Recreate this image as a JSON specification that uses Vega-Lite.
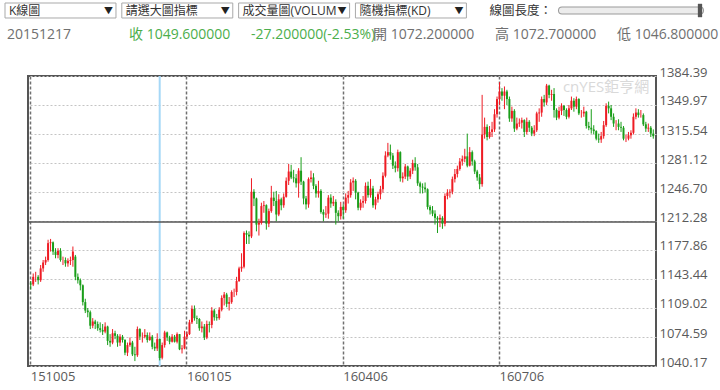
{
  "$schema": "https://vega.github.io/schema/vega-lite/v6.json",
  "width": 628,
  "height": 290,
  "autosize": {"type": "none"},
  "padding": {"left": 28, "top": 76, "right": 64, "bottom": 24},
  "background": "white",
  "config": {
    "view": {"stroke": "#555555", "strokeWidth": 2},
    "text": {"font": "Open Sans, Noto Sans CJK TC"},
    "axis": {"labelFont": "Open Sans", "labelFontSize": 13, "labelColor": "#5a5a5a"}
  },
  "resolve": {"scale": {"x": "independent", "y": "independent"}},
  "layer": [
    {
      "data": {"values": [
        {"d":"20151005","o":1138,"h":1141,"l":1131,"c":1137},
        {"d":"20151006","o":1137,"h":1150,"l":1135,"c":1146},
        {"d":"20151007","o":1146,"h":1152,"l":1140,"c":1146},
        {"d":"20151008","o":1146,"h":1148,"l":1137,"c":1142},
        {"d":"20151009","o":1142,"h":1160,"l":1140,"c":1156},
        {"d":"20151012","o":1156,"h":1166,"l":1152,"c":1163},
        {"d":"20151013","o":1163,"h":1170,"l":1160,"c":1166},
        {"d":"20151014","o":1166,"h":1190,"l":1164,"c":1186},
        {"d":"20151015","o":1186,"h":1191,"l":1176,"c":1187},
        {"d":"20151016","o":1187,"h":1188,"l":1172,"c":1176},
        {"d":"20151019","o":1176,"h":1180,"l":1168,"c":1172},
        {"d":"20151020","o":1172,"h":1180,"l":1168,"c":1177},
        {"d":"20151021","o":1177,"h":1180,"l":1164,"c":1166},
        {"d":"20151022","o":1166,"h":1170,"l":1160,"c":1166},
        {"d":"20151023","o":1166,"h":1169,"l":1158,"c":1162},
        {"d":"20151026","o":1162,"h":1168,"l":1158,"c":1165},
        {"d":"20151027","o":1165,"h":1170,"l":1160,"c":1166},
        {"d":"20151028","o":1166,"h":1182,"l":1158,"c":1176},
        {"d":"20151029","o":1170,"h":1172,"l":1142,"c":1146},
        {"d":"20151030","o":1146,"h":1150,"l":1138,"c":1142},
        {"d":"20151102","o":1142,"h":1144,"l":1130,"c":1136},
        {"d":"20151103","o":1136,"h":1137,"l":1112,"c":1116},
        {"d":"20151104","o":1116,"h":1120,"l":1103,"c":1106},
        {"d":"20151105","o":1106,"h":1109,"l":1098,"c":1104},
        {"d":"20151106","o":1104,"h":1106,"l":1084,"c":1088},
        {"d":"20151109","o":1088,"h":1097,"l":1085,"c":1093},
        {"d":"20151110","o":1093,"h":1095,"l":1084,"c":1090},
        {"d":"20151111","o":1090,"h":1093,"l":1082,"c":1085},
        {"d":"20151112","o":1085,"h":1092,"l":1080,"c":1083},
        {"d":"20151113","o":1083,"h":1090,"l":1077,"c":1081},
        {"d":"20151116","o":1081,"h":1092,"l":1079,"c":1087},
        {"d":"20151117","o":1087,"h":1088,"l":1065,"c":1070},
        {"d":"20151118","o":1070,"h":1078,"l":1063,"c":1068},
        {"d":"20151119","o":1068,"h":1084,"l":1066,"c":1079},
        {"d":"20151120","o":1079,"h":1082,"l":1072,"c":1076},
        {"d":"20151123","o":1076,"h":1078,"l":1063,"c":1068},
        {"d":"20151124","o":1068,"h":1078,"l":1064,"c":1075},
        {"d":"20151125","o":1075,"h":1077,"l":1068,"c":1071},
        {"d":"20151127","o":1071,"h":1072,"l":1053,"c":1056},
        {"d":"20151130","o":1056,"h":1068,"l":1052,"c":1065},
        {"d":"20151201","o":1065,"h":1074,"l":1063,"c":1068},
        {"d":"20151202","o":1068,"h":1070,"l":1052,"c":1054},
        {"d":"20151203","o":1054,"h":1063,"l":1046,"c":1053},
        {"d":"20151204","o":1053,"h":1087,"l":1051,"c":1084},
        {"d":"20151207","o":1084,"h":1085,"l":1071,"c":1075},
        {"d":"20151208","o":1075,"h":1080,"l":1068,"c":1075},
        {"d":"20151209","o":1075,"h":1084,"l":1073,"c":1077},
        {"d":"20151210","o":1077,"h":1080,"l":1068,"c":1071},
        {"d":"20151211","o":1071,"h":1080,"l":1070,"c":1075},
        {"d":"20151214","o":1075,"h":1077,"l":1060,"c":1063},
        {"d":"20151215","o":1063,"h":1068,"l":1058,"c":1061},
        {"d":"20151216","o":1061,"h":1079,"l":1058,"c":1072},
        {"d":"20151217","o":1072.2,"h":1072.7,"l":1046.8,"c":1049.6},
        {"d":"20151218","o":1050,"h":1068,"l":1048,"c":1065},
        {"d":"20151221","o":1065,"h":1082,"l":1062,"c":1080},
        {"d":"20151222","o":1080,"h":1081,"l":1070,"c":1074},
        {"d":"20151223","o":1074,"h":1076,"l":1066,"c":1069},
        {"d":"20151224","o":1069,"h":1078,"l":1068,"c":1075},
        {"d":"20151228","o":1075,"h":1077,"l":1068,"c":1069},
        {"d":"20151229","o":1069,"h":1080,"l":1067,"c":1078},
        {"d":"20151230","o":1078,"h":1078,"l":1059,"c":1060},
        {"d":"20151231","o":1060,"h":1065,"l":1055,"c":1061},
        {"d":"20160104","o":1061,"h":1082,"l":1060,"c":1075},
        {"d":"20160105","o":1075,"h":1081,"l":1072,"c":1078},
        {"d":"20160106","o":1078,"h":1095,"l":1077,"c":1092},
        {"d":"20160107","o":1092,"h":1112,"l":1090,"c":1108},
        {"d":"20160108","o":1108,"h":1112,"l":1094,"c":1097},
        {"d":"20160111","o":1097,"h":1100,"l":1090,"c":1096},
        {"d":"20160112","o":1096,"h":1097,"l":1082,"c":1085},
        {"d":"20160113","o":1085,"h":1093,"l":1080,"c":1087},
        {"d":"20160114","o":1087,"h":1090,"l":1071,"c":1074},
        {"d":"20160115","o":1074,"h":1094,"l":1072,"c":1090},
        {"d":"20160119","o":1090,"h":1093,"l":1080,"c":1089},
        {"d":"20160120","o":1089,"h":1110,"l":1085,"c":1106},
        {"d":"20160121","o":1106,"h":1108,"l":1094,"c":1098},
        {"d":"20160122","o":1098,"h":1102,"l":1094,"c":1097},
        {"d":"20160125","o":1097,"h":1110,"l":1095,"c":1107},
        {"d":"20160126","o":1107,"h":1124,"l":1105,"c":1121},
        {"d":"20160127","o":1121,"h":1128,"l":1112,"c":1125},
        {"d":"20160128","o":1125,"h":1127,"l":1110,"c":1114},
        {"d":"20160129","o":1114,"h":1122,"l":1106,"c":1116},
        {"d":"20160201","o":1116,"h":1130,"l":1114,"c":1128},
        {"d":"20160202","o":1128,"h":1132,"l":1122,"c":1128},
        {"d":"20160203","o":1128,"h":1146,"l":1124,"c":1141},
        {"d":"20160204","o":1141,"h":1158,"l":1140,"c":1156},
        {"d":"20160205","o":1156,"h":1174,"l":1152,"c":1158},
        {"d":"20160208","o":1158,"h":1200,"l":1156,"c":1198},
        {"d":"20160209","o":1198,"h":1201,"l":1185,"c":1196},
        {"d":"20160210","o":1196,"h":1200,"l":1185,"c":1194},
        {"d":"20160211","o":1194,"h":1263,"l":1192,"c":1247},
        {"d":"20160212","o":1247,"h":1250,"l":1230,"c":1239},
        {"d":"20160216","o":1239,"h":1240,"l":1200,"c":1208},
        {"d":"20160217","o":1208,"h":1215,"l":1195,"c":1210},
        {"d":"20160218","o":1210,"h":1234,"l":1208,"c":1230},
        {"d":"20160219","o":1230,"h":1236,"l":1222,"c":1231},
        {"d":"20160222","o":1231,"h":1232,"l":1202,"c":1209},
        {"d":"20160223","o":1209,"h":1227,"l":1205,"c":1224},
        {"d":"20160224","o":1224,"h":1254,"l":1222,"c":1240},
        {"d":"20160225","o":1240,"h":1247,"l":1230,"c":1236},
        {"d":"20160226","o":1236,"h":1248,"l":1212,"c":1220},
        {"d":"20160229","o":1220,"h":1244,"l":1218,"c":1238},
        {"d":"20160301","o":1238,"h":1240,"l":1225,"c":1231},
        {"d":"20160302","o":1231,"h":1245,"l":1228,"c":1241},
        {"d":"20160303","o":1241,"h":1264,"l":1240,"c":1260},
        {"d":"20160304","o":1260,"h":1280,"l":1255,"c":1271},
        {"d":"20160307","o":1271,"h":1279,"l":1262,"c":1264},
        {"d":"20160308","o":1264,"h":1273,"l":1258,"c":1263},
        {"d":"20160309","o":1263,"h":1268,"l":1252,"c":1257},
        {"d":"20160310","o":1257,"h":1275,"l":1240,"c":1272},
        {"d":"20160311","o":1272,"h":1288,"l":1255,"c":1259},
        {"d":"20160314","o":1259,"h":1260,"l":1232,"c":1239},
        {"d":"20160315","o":1239,"h":1242,"l":1226,"c":1232},
        {"d":"20160316","o":1232,"h":1264,"l":1228,"c":1262},
        {"d":"20160317","o":1262,"h":1272,"l":1258,"c":1264},
        {"d":"20160318","o":1264,"h":1269,"l":1250,"c":1254},
        {"d":"20160321","o":1254,"h":1256,"l":1240,"c":1245},
        {"d":"20160322","o":1245,"h":1260,"l":1240,"c":1248},
        {"d":"20160323","o":1248,"h":1250,"l":1221,"c":1223},
        {"d":"20160324","o":1223,"h":1226,"l":1212,"c":1220},
        {"d":"20160328","o":1220,"h":1230,"l":1216,"c":1221},
        {"d":"20160329","o":1221,"h":1243,"l":1215,"c":1240},
        {"d":"20160330","o":1240,"h":1244,"l":1228,"c":1233},
        {"d":"20160331","o":1233,"h":1242,"l":1230,"c":1235},
        {"d":"20160401","o":1235,"h":1238,"l":1208,"c":1222},
        {"d":"20160404","o":1222,"h":1225,"l":1212,"c":1218},
        {"d":"20160405","o":1218,"h":1235,"l":1214,"c":1229},
        {"d":"20160406","o":1229,"h":1232,"l":1215,"c":1225},
        {"d":"20160407","o":1225,"h":1245,"l":1222,"c":1240},
        {"d":"20160408","o":1240,"h":1248,"l":1233,"c":1243},
        {"d":"20160411","o":1243,"h":1262,"l":1240,"c":1258},
        {"d":"20160412","o":1258,"h":1264,"l":1248,"c":1260},
        {"d":"20160413","o":1260,"h":1262,"l":1238,"c":1246},
        {"d":"20160414","o":1246,"h":1247,"l":1225,"c":1228},
        {"d":"20160415","o":1228,"h":1238,"l":1225,"c":1234},
        {"d":"20160418","o":1234,"h":1242,"l":1228,"c":1236},
        {"d":"20160419","o":1236,"h":1258,"l":1233,"c":1254},
        {"d":"20160420","o":1254,"h":1259,"l":1240,"c":1243},
        {"d":"20160421","o":1243,"h":1262,"l":1240,"c":1251},
        {"d":"20160422","o":1251,"h":1254,"l":1228,"c":1231},
        {"d":"20160425","o":1231,"h":1241,"l":1226,"c":1238},
        {"d":"20160426","o":1238,"h":1247,"l":1234,"c":1244},
        {"d":"20160427","o":1244,"h":1254,"l":1238,"c":1250},
        {"d":"20160428","o":1250,"h":1270,"l":1246,"c":1266},
        {"d":"20160429","o":1266,"h":1295,"l":1264,"c":1290},
        {"d":"20160502","o":1290,"h":1305,"l":1288,"c":1294},
        {"d":"20160503","o":1294,"h":1303,"l":1285,"c":1290},
        {"d":"20160504","o":1290,"h":1293,"l":1274,"c":1278},
        {"d":"20160505","o":1278,"h":1283,"l":1270,"c":1275},
        {"d":"20160506","o":1275,"h":1297,"l":1271,"c":1294},
        {"d":"20160509","o":1294,"h":1295,"l":1259,"c":1263},
        {"d":"20160510","o":1263,"h":1270,"l":1258,"c":1265},
        {"d":"20160511","o":1265,"h":1280,"l":1262,"c":1277},
        {"d":"20160512","o":1277,"h":1278,"l":1260,"c":1265},
        {"d":"20160513","o":1265,"h":1275,"l":1262,"c":1272},
        {"d":"20160516","o":1272,"h":1285,"l":1268,"c":1281},
        {"d":"20160517","o":1281,"h":1288,"l":1272,"c":1276},
        {"d":"20160518","o":1276,"h":1280,"l":1254,"c":1257},
        {"d":"20160519","o":1257,"h":1259,"l":1245,"c":1253},
        {"d":"20160520","o":1253,"h":1257,"l":1245,"c":1252},
        {"d":"20160523","o":1252,"h":1258,"l":1246,"c":1250},
        {"d":"20160524","o":1250,"h":1251,"l":1226,"c":1229},
        {"d":"20160525","o":1229,"h":1231,"l":1220,"c":1225},
        {"d":"20160526","o":1225,"h":1230,"l":1218,"c":1221},
        {"d":"20160527","o":1221,"h":1225,"l":1208,"c":1216},
        {"d":"20160531","o":1216,"h":1218,"l":1198,"c":1214},
        {"d":"20160601","o":1214,"h":1220,"l":1205,"c":1216},
        {"d":"20160602","o":1216,"h":1218,"l":1203,"c":1209},
        {"d":"20160603","o":1209,"h":1245,"l":1206,"c":1242},
        {"d":"20160606","o":1242,"h":1250,"l":1238,"c":1246},
        {"d":"20160607","o":1246,"h":1250,"l":1240,"c":1247},
        {"d":"20160608","o":1247,"h":1265,"l":1244,"c":1262},
        {"d":"20160609","o":1262,"h":1274,"l":1258,"c":1268},
        {"d":"20160610","o":1268,"h":1278,"l":1264,"c":1274},
        {"d":"20160613","o":1274,"h":1287,"l":1272,"c":1283},
        {"d":"20160614","o":1283,"h":1290,"l":1278,"c":1286},
        {"d":"20160615","o":1286,"h":1298,"l":1282,"c":1289},
        {"d":"20160616","o":1289,"h":1316,"l":1276,"c":1278},
        {"d":"20160617","o":1278,"h":1300,"l":1277,"c":1294},
        {"d":"20160620","o":1294,"h":1296,"l":1278,"c":1283},
        {"d":"20160621","o":1283,"h":1285,"l":1268,"c":1271},
        {"d":"20160622","o":1271,"h":1273,"l":1260,"c":1264},
        {"d":"20160623","o":1264,"h":1268,"l":1250,"c":1256},
        {"d":"20160624","o":1256,"h":1362,"l":1253,"c":1315},
        {"d":"20160627","o":1315,"h":1335,"l":1310,"c":1324},
        {"d":"20160628","o":1324,"h":1327,"l":1308,"c":1312},
        {"d":"20160629","o":1312,"h":1325,"l":1310,"c":1318},
        {"d":"20160630","o":1318,"h":1330,"l":1312,"c":1321},
        {"d":"20160701","o":1321,"h":1345,"l":1318,"c":1339},
        {"d":"20160705","o":1339,"h":1360,"l":1335,"c":1357},
        {"d":"20160706","o":1357,"h":1377,"l":1350,"c":1366},
        {"d":"20160707","o":1366,"h":1370,"l":1355,"c":1361},
        {"d":"20160708","o":1361,"h":1372,"l":1345,"c":1366},
        {"d":"20160711","o":1366,"h":1368,"l":1350,"c":1357},
        {"d":"20160712","o":1357,"h":1360,"l":1330,"c":1334},
        {"d":"20160713","o":1334,"h":1348,"l":1330,"c":1343},
        {"d":"20160714","o":1343,"h":1345,"l":1318,"c":1322},
        {"d":"20160715","o":1322,"h":1335,"l":1320,"c":1328},
        {"d":"20160718","o":1328,"h":1334,"l":1324,"c":1329},
        {"d":"20160719","o":1329,"h":1335,"l":1322,"c":1332},
        {"d":"20160720","o":1332,"h":1333,"l":1312,"c":1318},
        {"d":"20160721","o":1318,"h":1335,"l":1315,"c":1330},
        {"d":"20160722","o":1330,"h":1332,"l":1318,"c":1323},
        {"d":"20160725","o":1323,"h":1325,"l":1313,"c":1316},
        {"d":"20160726","o":1316,"h":1326,"l":1313,"c":1320},
        {"d":"20160727","o":1320,"h":1342,"l":1318,"c":1340},
        {"d":"20160728","o":1340,"h":1346,"l":1330,"c":1341},
        {"d":"20160729","o":1341,"h":1360,"l":1336,"c":1357},
        {"d":"20160801","o":1357,"h":1362,"l":1348,"c":1353},
        {"d":"20160802","o":1353,"h":1375,"l":1350,"c":1373},
        {"d":"20160803","o":1373,"h":1374,"l":1358,"c":1362},
        {"d":"20160804","o":1362,"h":1368,"l":1355,"c":1363},
        {"d":"20160805","o":1363,"h":1370,"l":1335,"c":1344},
        {"d":"20160808","o":1344,"h":1346,"l":1332,"c":1335},
        {"d":"20160809","o":1335,"h":1348,"l":1333,"c":1343},
        {"d":"20160810","o":1343,"h":1352,"l":1338,"c":1349},
        {"d":"20160811","o":1349,"h":1350,"l":1337,"c":1344},
        {"d":"20160812","o":1344,"h":1346,"l":1333,"c":1336},
        {"d":"20160815","o":1336,"h":1350,"l":1334,"c":1346},
        {"d":"20160816","o":1346,"h":1360,"l":1344,"c":1355},
        {"d":"20160817","o":1355,"h":1358,"l":1342,"c":1348},
        {"d":"20160818","o":1348,"h":1360,"l":1345,"c":1357},
        {"d":"20160819","o":1357,"h":1358,"l":1338,"c":1340},
        {"d":"20160822","o":1340,"h":1344,"l":1335,"c":1340},
        {"d":"20160823","o":1340,"h":1348,"l":1336,"c":1342},
        {"d":"20160824","o":1342,"h":1343,"l":1322,"c":1325},
        {"d":"20160825","o":1325,"h":1330,"l":1320,"c":1323},
        {"d":"20160826","o":1323,"h":1345,"l":1316,"c":1321},
        {"d":"20160829","o":1321,"h":1326,"l":1315,"c":1319},
        {"d":"20160830","o":1319,"h":1320,"l":1308,"c":1310},
        {"d":"20160831","o":1310,"h":1316,"l":1305,"c":1309},
        {"d":"20160901","o":1309,"h":1318,"l":1305,"c":1313},
        {"d":"20160902","o":1313,"h":1331,"l":1310,"c":1326},
        {"d":"20160906","o":1326,"h":1352,"l":1324,"c":1349},
        {"d":"20160907","o":1349,"h":1354,"l":1340,"c":1346},
        {"d":"20160908","o":1346,"h":1350,"l":1332,"c":1336},
        {"d":"20160909","o":1336,"h":1340,"l":1324,"c":1328},
        {"d":"20160912","o":1328,"h":1332,"l":1320,"c":1328},
        {"d":"20160913","o":1328,"h":1333,"l":1320,"c":1324},
        {"d":"20160914","o":1324,"h":1330,"l":1318,"c":1323},
        {"d":"20160915","o":1323,"h":1325,"l":1308,"c":1310},
        {"d":"20160916","o":1310,"h":1315,"l":1306,"c":1310},
        {"d":"20160919","o":1310,"h":1318,"l":1308,"c":1314},
        {"d":"20160920","o":1314,"h":1320,"l":1310,"c":1317},
        {"d":"20160921","o":1317,"h":1340,"l":1315,"c":1336},
        {"d":"20160922","o":1336,"h":1346,"l":1333,"c":1341},
        {"d":"20160923","o":1341,"h":1345,"l":1335,"c":1338},
        {"d":"20160926","o":1338,"h":1344,"l":1335,"c":1338},
        {"d":"20160927","o":1338,"h":1340,"l":1325,"c":1327},
        {"d":"20160928","o":1327,"h":1330,"l":1318,"c":1322},
        {"d":"20160929","o":1322,"h":1328,"l":1318,"c":1323},
        {"d":"20160930","o":1323,"h":1325,"l":1312,"c":1316},
        {"d":"20161003","o":1316,"h":1321,"l":1310,"c":1313}
      ]},
      "layer": [
        {
          "transform": [{"filter": "datum.d == '20151217'"}],
          "mark": {"type": "rule", "color": "#a6d8f7", "strokeWidth": 2},
          "encoding": {
            "x": {"field": "d", "type": "ordinal", "sort": "ascending",
              "scale": {"type": "band", "paddingInner": 0, "paddingOuter": 0.6},
              "axis": {"orient": "bottom", "values": ["20151005", "20160105", "20160406", "20160706"],
                "labelExpr": "substring(datum.value, 2)", "grid": true, "gridColor": "#707070",
                "gridDash": [3, 2], "gridWidth": 1.5, "ticks": false, "domain": false,
                "labelAlign": "left", "labelAngle": 0, "labelPadding": 4, "bandPosition": 0.5, "title": null}}
          }
        },
        {
          "data": {"values": [{"v": 1211}]},
          "mark": {"type": "rule", "color": "#555555", "strokeWidth": 1.5},
          "encoding": {"y": {"field": "v", "type": "quantitative",
            "scale": {"domain": [1040.17, 1384.39], "nice": false, "zero": false},
            "axis": {"orient": "right", "values": [1040.17, 1074.59, 1109.02, 1143.44, 1177.86, 1212.28, 1246.70, 1281.12, 1315.54, 1349.97, 1384.39],
              "tickCount": 30, "format": ".2f", "grid": true, "gridColor": "#c4c4c4", "gridDash": [2, 2],
              "ticks": false, "domain": false, "labelPadding": 3, "labelOffset": -4,
              "labelFlush": false, "labelOverlap": false, "title": null}}}
        },
        {
          "mark": {"type": "rule", "strokeWidth": 1},
          "encoding": {
            "x": {"field": "d", "type": "ordinal", "sort": "ascending"},
            "y": {"field": "l", "type": "quantitative",
              "axis": {"orient": "right", "values": [1040.17, 1074.59, 1109.02, 1143.44, 1177.86, 1212.28, 1246.70, 1281.12, 1315.54, 1349.97, 1384.39],
                "tickCount": 30, "format": ".2f", "grid": true, "gridColor": "#c4c4c4", "gridDash": [2, 2],
                "ticks": false, "domain": false, "labelPadding": 3, "labelOffset": -4,
                "labelFlush": false, "labelOverlap": false, "title": null}},
            "y2": {"field": "h"},
            "color": {"condition": {"test": "datum.c >= datum.o", "value": "#ee1c24"}, "value": "#1a9e1a"}
          }
        },
        {
          "mark": {"type": "bar", "width": {"band": 0.8}},
          "encoding": {
            "x": {"field": "d", "type": "ordinal", "sort": "ascending"},
            "y": {"field": "o", "type": "quantitative"},
            "y2": {"field": "c"},
            "color": {"condition": {"test": "datum.c >= datum.o", "value": "#ee1c24"}, "value": "#1a9e1a"}
          }
        },
        {
          "data": {"values": [{"t": "cnYES鉅亨網"}]},
          "mark": {"type": "text", "align": "right", "baseline": "middle", "dx": -4, "fontSize": 15, "color": "#d9d9d9"},
          "encoding": {
            "x": {"datum": "20161003", "type": "ordinal"},
            "y": {"datum": 1371, "type": "quantitative"},
            "text": {"field": "t"}
          }
        }
      ]
    },
    {
      "resolve": {"scale": {"x": "independent"}},
      "layer": [
        {
          "data": {"values": [
            {"ctl": "K線圖", "row": "controls"},
            {"ctl": "請選大圖指標", "row": "controls"},
            {"ctl": "成交量圖(VOLUM", "row": "controls"},
            {"ctl": "隨機指標(KD)", "row": "controls"}
          ]},
          "encoding": {
            "x": {"field": "ctl", "type": "nominal", "sort": null,
              "scale": {"type": "band", "domain": ["K線圖", "請選大圖指標", "成交量圖(VOLUM", "隨機指標(KD)"],
                "range": [-23, 438.4], "paddingInner": 0.05, "paddingOuter": 0}, "axis": null},
            "y": {"field": "row", "type": "nominal",
              "scale": {"type": "band", "domain": ["controls", "values"], "range": [-73, -33.5], "paddingInner": 0.388, "paddingOuter": 0},
              "axis": null}
          },
          "layer": [
            {
              "mark": {"type": "rect", "fill": "white", "stroke": "#a9a9a9", "strokeWidth": 1}
            },
            {
              "mark": {"type": "text", "align": "left", "baseline": "middle", "fontSize": 12, "color": "#333333", "dx": 4, "dy": 1},
              "encoding": {
                "x": {"field": "ctl", "type": "nominal", "sort": null, "bandPosition": 0},
                "text": {"field": "ctl"}
              }
            },
            {
              "mark": {"type": "text", "align": "right", "baseline": "middle", "fontSize": 9, "color": "#222222", "dx": -3, "dy": 1},
              "encoding": {
                "x": {"field": "ctl", "type": "nominal", "sort": null, "bandPosition": 1},
                "text": {"value": "▼"}
              }
            }
          ]
        },
        {
          "data": {"values": [{"ctl": "線圖長度：", "row": "controls"}]},
          "encoding": {
            "x": {"field": "ctl", "type": "nominal",
              "scale": {"type": "band", "domain": ["線圖長度："], "range": [534, 672], "paddingInner": 0, "paddingOuter": 0}, "axis": null},
            "y": {"field": "row", "type": "nominal",
              "scale": {"type": "band", "domain": ["controls", "values"], "range": [-73, -33.5], "paddingInner": 0.388, "paddingOuter": 0},
              "axis": null}
          },
          "layer": [
            {
              "mark": {"type": "text", "align": "right", "baseline": "middle", "fontSize": 12.5, "color": "#333333", "dx": -10, "dy": 1},
              "encoding": {
                "x": {"field": "ctl", "type": "nominal", "bandPosition": 0},
                "text": {"field": "ctl"}
              }
            },
            {
              "mark": {"type": "rule", "color": "#9a9a9a", "strokeWidth": 8, "strokeCap": "round", "dy": -2},
              "encoding": {
                "x": {"field": "ctl", "type": "nominal", "bandPosition": 0},
                "x2": {"field": "ctl", "bandPosition": 1}
              }
            },
            {
              "mark": {"type": "rule", "color": "#ececec", "strokeWidth": 6, "strokeCap": "round", "dy": -2},
              "encoding": {
                "x": {"field": "ctl", "type": "nominal", "bandPosition": 0},
                "x2": {"field": "ctl", "bandPosition": 1}
              }
            },
            {
              "mark": {"type": "point", "filled": true, "shape": "M-0.32,-1H0.32V1H-0.32Z", "size": 180, "color": "#555555", "opacity": 1, "dy": -3},
              "encoding": {
                "x": {"field": "ctl", "type": "nominal", "bandPosition": 1}
              }
            }
          ]
        },
        {
          "data": {"values": [
            {"item": "20151217", "row": "values", "tone": "gray"},
            {"item": "收 1049.600000", "row": "values", "tone": "green"},
            {"item": "-27.200000(-2.53%)", "row": "values", "tone": "green"},
            {"item": "開 1072.200000", "row": "values", "tone": "gray"},
            {"item": "高 1072.700000", "row": "values", "tone": "gray"},
            {"item": "低 1046.800000", "row": "values", "tone": "gray"}
          ]},
          "mark": {"type": "text", "align": "left", "baseline": "middle", "fontSize": 14},
          "encoding": {
            "x": {"field": "item", "type": "nominal", "sort": null,
              "scale": {"type": "point", "domain": ["20151217", "收 1049.600000", "-27.200000(-2.53%)", "開 1072.200000", "高 1072.700000", "低 1046.800000"],
                "range": [-21, 589], "padding": 0}, "axis": null},
            "y": {"field": "row", "type": "nominal",
              "scale": {"type": "band", "domain": ["controls", "values"], "range": [-73, -33.5], "paddingInner": 0.388, "paddingOuter": 0},
              "axis": null},
            "text": {"field": "item"},
            "color": {"field": "tone", "type": "nominal",
              "scale": {"domain": ["gray", "green"], "range": ["#707070", "#4cae4c"]}, "legend": null}
          }
        }
      ]
    }
  ]
}
